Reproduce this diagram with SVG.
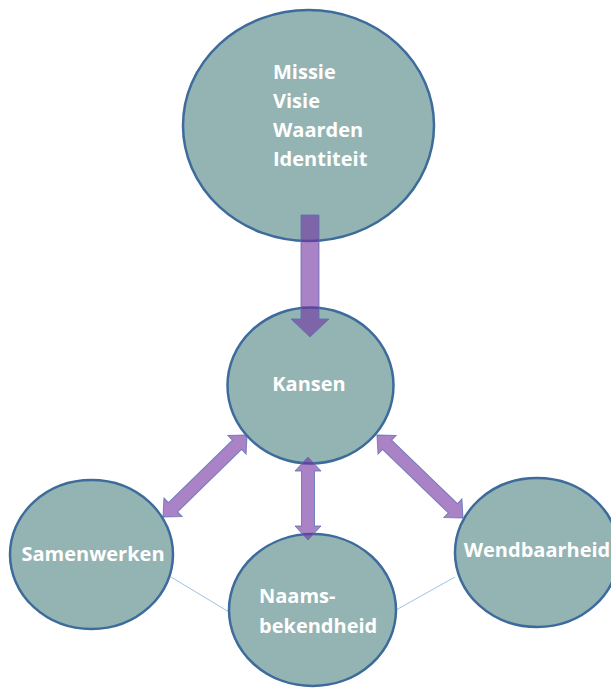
<svg xmlns="http://www.w3.org/2000/svg" width="611" height="688" viewBox="0 0 611 688">
<style>
.node{fill:#94b3b3;stroke:#3d6b9b;stroke-width:2.5}
.lbl{font-family:"Open Sans","Liberation Sans",sans-serif;font-weight:bold;font-size:20px;fill:#ffffff}
.arrow{fill:#7030a0;fill-opacity:0.6;stroke:#5b6fb5;stroke-opacity:0.8;stroke-width:1}
.thin{stroke:#9dc3e6;stroke-width:1;fill:none}
</style>
<defs>
<polygon id="dbl" points="0,0 14,-13 14,-6.5 -14,-6.5 -14,-13 0,0"/>
</defs>
<rect width="611" height="688" fill="#ffffff"/>
<g id="thin-lines">
<line class="thin" x1="171" y1="577" x2="229" y2="612"/>
<line class="thin" x1="396" y1="610" x2="455" y2="577"/>
</g>
<g id="node-top">
<ellipse class="node" cx="308.5" cy="125.5" rx="125.5" ry="115.5"/>
<text class="lbl" x="273" y="79">Missie</text>
<text class="lbl" x="273" y="108">Visie</text>
<text class="lbl" x="273" y="137">Waarden</text>
<text class="lbl" x="273" y="166">Identiteit</text>
</g>
<g id="node-kansen">
<ellipse class="node" cx="310.5" cy="385.5" rx="83" ry="78"/>
<text class="lbl" x="309" y="391" text-anchor="middle">Kansen</text>
</g>
<g id="node-samenwerken">
<ellipse class="node" cx="91.5" cy="554.5" rx="81.5" ry="74.5"/>
<text class="lbl" x="93" y="561" text-anchor="middle">Samenwerken</text>
</g>
<g id="node-naams">
<ellipse class="node" cx="312.5" cy="610" rx="83.5" ry="76"/>
<text class="lbl" x="259" y="603">Naams-</text>
<text class="lbl" x="259" y="633">bekendheid</text>
</g>
<g id="node-wendbaarheid">
<ellipse class="node" cx="537" cy="552.5" rx="82" ry="74.5"/>
<text class="lbl" x="537" y="557" text-anchor="middle">Wendbaarheid</text>
</g>
<g id="connectors">
<polygon class="arrow" points="301,215 319,215 319,319 329,319 310,337 291,319 301,319"/>
<g transform="translate(163,517) rotate(-44.3)">
<polygon class="arrow" points="0,0 14,-13 14,-6.5 103.4,-6.5 103.4,-13 117.4,0 103.4,13 103.4,6.5 14,6.5 14,13"/>
</g>
<g transform="translate(377,435) rotate(44)">
<polygon class="arrow" points="0,0 14,-13 14,-6.5 105.5,-6.5 105.5,-13 119.5,0 105.5,13 105.5,6.5 14,6.5 14,13"/>
</g>
<g transform="translate(308,457) rotate(90)">
<polygon class="arrow" points="0,0 14,-13 14,-6.5 69,-6.5 69,-13 83,0 69,13 69,6.5 14,6.5 14,13"/>
</g>
</g>
</svg>
